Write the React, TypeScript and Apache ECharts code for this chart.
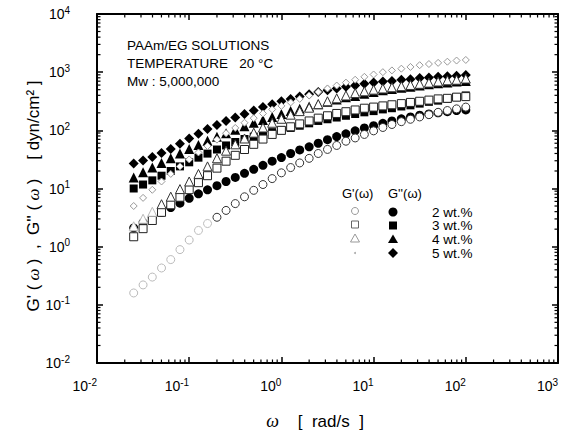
import { useEffect, useRef } from "react";
import * as echarts from "echarts";

// angular frequency, rad/s
const omega = [0.025, 0.0316, 0.0398, 0.0501, 0.0631, 0.0794, 0.1, 0.126, 0.158, 0.2, 0.251, 0.316, 0.398, 0.501, 0.631, 0.794, 1, 1.26, 1.58, 2, 2.51, 3.16, 3.98, 5.01, 6.31, 7.94, 10, 12.6, 15.8, 20, 25.1, 31.6, 39.8, 50.1, 63.1, 79.4, 100];

// G'' (loss modulus), dyn/cm2
const gpp2 = [2.1, 2.6, 3.2, 3.9, 4.7, 5.6, 6.8, 8.1, 9.5, 11.2, 13.2, 15.5, 18.2, 21.4, 25, 29.5, 34, 40, 46, 52, 60, 69, 78, 87, 98, 110, 120, 132, 145, 158, 170, 182, 191, 200, 209, 219, 224];
const gpp3 = [10, 11.7, 13.8, 16.6, 20, 24, 28.2, 33.9, 39.8, 46.8, 55, 63, 71, 78, 85, 93, 100, 110, 120, 132, 145, 155, 166, 178, 191, 204, 214, 229, 240, 257, 269, 288, 309, 324, 347, 372, 398];
const gpp4 = [15.5, 19.1, 22.9, 27.5, 33.1, 39.8, 47.9, 56.2, 66.1, 77.6, 89.1, 102, 117, 135, 151, 170, 191, 214, 234, 257, 282, 309, 339, 372, 389, 427, 457, 490, 513, 537, 562, 589, 617, 646, 661, 692, 708];
const gpp5 = [26.9, 30.2, 34.7, 40.7, 47.9, 58.9, 72.4, 87.1, 105, 123, 145, 166, 191, 219, 251, 282, 316, 347, 380, 417, 457, 490, 525, 562, 589, 631, 661, 692, 708, 741, 759, 794, 813, 832, 851, 871, 891];

// G' (storage modulus), dyn/cm2
const gp2 = [0.16, 0.22, 0.3, 0.43, 0.6, 0.89, 1.3, 1.9, 2.5, 3.2, 4.2, 5.5, 7.2, 9.3, 11.7, 14.8, 18.6, 22.9, 27.5, 33, 40, 47, 55, 65, 74, 85, 98, 112, 126, 141, 155, 170, 186, 204, 219, 234, 251];
const gp3 = [1.48, 2.04, 2.82, 3.89, 5.25, 7.08, 9.55, 12.6, 16.6, 22.4, 29.5, 37.2, 46.8, 57.5, 70.8, 85.1, 100, 115, 129, 145, 162, 178, 195, 209, 224, 240, 251, 263, 275, 288, 302, 316, 331, 347, 355, 372, 380];
const gp4 = [2.24, 3.02, 3.98, 5.37, 7.24, 9.77, 13.2, 17.8, 24, 33.1, 44.7, 57.5, 72.4, 91.2, 112, 135, 158, 186, 214, 245, 282, 316, 355, 398, 437, 468, 501, 525, 550, 575, 603, 631, 661, 692, 724, 741, 776];
const gp5 = [5, 6.9, 9.5, 13.2, 17.8, 24, 31.6, 41.7, 53.7, 69.2, 89.1, 110, 135, 162, 195, 229, 263, 302, 347, 398, 457, 525, 589, 661, 741, 832, 912, 1000, 1072, 1148, 1230, 1318, 1380, 1445, 1514, 1585, 1622];

const xDecades = [-2, -1, 0, 1, 2, 3];
const yDecades = [-2, -1, 0, 1, 2, 3, 4];
const minorMultipliers = [2, 3, 4, 5, 6, 7, 8, 9];
const concLabels = ["2 wt.%", "3 wt.%", "4 wt.%", "5 wt.%"];
const noteLines = ["PAAm/EG SOLUTIONS", "TEMPERATURE   20 °C", "Mw : 5,000,000"];

const SANS = '"Liberation Sans", Arial, sans-serif';
const SERIF = '"Liberation Serif", "Times New Roman", serif';

export default function App() {
  const ref = useRef<HTMLDivElement>(null);
  useEffect(() => {
    const chart = echarts.init(ref.current!, null, { renderer: "svg" });
    const pts = (arr: number[]) => omega.map((w, i) => [w, arr[i]]);
    const filled = (name: string, arr: number[], symbol: string, size: number) => ({
      type: "scatter", name, data: pts(arr), symbol, symbolSize: size, z: 3, silent: true,
      itemStyle: { color: "#000", opacity: 1 },
    });
    const open = (name: string, arr: number[], symbol: string, size: number, stroke: string, faintBelow = 0) => ({
      type: "scatter", name, symbol, symbolSize: size, z: 4, silent: true,
      data: omega.map((w, i) =>
        w < faintBelow
          ? { value: [w, arr[i]], itemStyle: { color: "#fff", borderColor: "#bbb", borderWidth: 1 } }
          : [w, arr[i]]
      ),
      itemStyle: { color: "#fff", borderColor: stroke, borderWidth: 1, opacity: 1 },
    });
    const minorX = xDecades.slice(0, -1).flatMap((e) => minorMultipliers.map((m) => m * Math.pow(10, e)));
    const minorY = yDecades.slice(0, -1).flatMap((e) => minorMultipliers.map((m) => m * Math.pow(10, e)));
    const tickStyle = { color: "#000", width: 1.5 };
    const labelFmt = (v: number) => `{b|10}{s|${Math.round(Math.log10(v))}}`;
    const rich = {
      b: { fontSize: 14, fontFamily: SANS, color: "#000" },
      s: { fontSize: 10, fontFamily: SANS, color: "#000", padding: [0, 0, 8, 0] },
    };
    const axisCommon = {
      type: "log", logBase: 10, splitLine: { show: false },
      axisLine: { show: true, lineStyle: { color: "#000", width: 2 } },
      axisTick: { show: true, inside: true, length: 6, lineStyle: tickStyle },
    };
    const option: any = {
      animation: false,
      backgroundColor: "#fff",
      grid: { left: 97, right: 25, top: 14, bottom: 71 },
      xAxis: [
        { ...axisCommon, min: 0.01, max: 1000, splitNumber: 5, position: "bottom",
          axisLabel: { formatter: labelFmt, rich, margin: 14, align: "right" } },
        { ...axisCommon, min: 0.01, max: 1000, splitNumber: 5, position: "top", axisLabel: { show: false } },
      ],
      yAxis: [
        { ...axisCommon, min: 0.01, max: 10000, splitNumber: 6, position: "left",
          axisLabel: { formatter: labelFmt, rich, margin: 27 } },
        { ...axisCommon, min: 0.01, max: 10000, splitNumber: 6, position: "right", axisLabel: { show: false } },
      ],
      series: [
        {
          type: "custom", silent: true, z: 1, clip: false,
          data: minorX.map((v) => [v, 1]),
          renderItem: (params: any, api: any) => {
            const cs = params.coordSys;
            const px = api.coord([api.value(0), 1])[0];
            return {
              type: "group",
              children: [
                { type: "line", shape: { x1: px, y1: cs.y + cs.height, x2: px, y2: cs.y + cs.height - 3.5 }, style: { stroke: "#000", lineWidth: 1.2 } },
                { type: "line", shape: { x1: px, y1: cs.y, x2: px, y2: cs.y + 3.5 }, style: { stroke: "#000", lineWidth: 1.2 } },
              ],
            };
          },
        },
        {
          type: "custom", silent: true, z: 1, clip: false,
          data: minorY.map((v) => [1, v]),
          renderItem: (params: any, api: any) => {
            const cs = params.coordSys;
            const py = api.coord([1, api.value(1)])[1];
            return {
              type: "group",
              children: [
                { type: "line", shape: { x1: cs.x, y1: py, x2: cs.x + 3.5, y2: py }, style: { stroke: "#000", lineWidth: 1.2 } },
                { type: "line", shape: { x1: cs.x + cs.width, y1: py, x2: cs.x + cs.width - 3.5, y2: py }, style: { stroke: "#000", lineWidth: 1.2 } },
              ],
            };
          },
        },
        filled("G'' 2 wt.%", gpp2, "circle", 9),
        filled("G'' 3 wt.%", gpp3, "rect", 8),
        filled("G'' 4 wt.%", gpp4, "triangle", 10),
        filled("G'' 5 wt.%", gpp5, "diamond", 10),
        open("G' 2 wt.%", gp2, "circle", 8, "#333", 0.2),
        open("G' 3 wt.%", gp3, "rect", 8, "#222"),
        open("G' 4 wt.%", gp4, "triangle", 9, "#333", 0.05),
        open("G' 5 wt.%", gp5, "diamond", 7, "#999"),
      ],
      graphic: [
        ...noteLines.map((t, i) => ({
          type: "text", x: 127, y: 45 + i * 18,
          style: { text: t, font: `13.5px ${SANS}`, fill: "#000", verticalAlign: "middle", lineHeight: 15 },
        })),
        {
          type: "text", x: 33, y: 196, rotation: Math.PI / 2,
          style: {
            text: "{t|G' (}{w| ω }{t|)  ,  G'' (}{w| ω }{t|)    [ dyn/cm² ]}",
            align: "center", verticalAlign: "middle",
            rich: { t: { font: `17px ${SANS}`, fill: "#000" }, w: { font: `italic 17px ${SERIF}`, fill: "#000" } },
          },
        },
        {
          type: "text", x: 315, y: 421,
          style: {
            text: "{w|ω}{t|    [  rad/s  ]}", align: "center", verticalAlign: "middle",
            rich: { t: { font: `17px ${SANS}`, fill: "#000" }, w: { font: `italic 18px ${SERIF}`, fill: "#000" } },
          },
        },
        { type: "text", x: 342, y: 193, style: { text: "G'(ω)", font: `13px ${SANS}`, fill: "#000", verticalAlign: "middle", lineHeight: 13 } },
        { type: "text", x: 388, y: 193, style: { text: "G''(ω)", font: `13px ${SANS}`, fill: "#000", verticalAlign: "middle", lineHeight: 13 } },
        ...concLabels.map((t, i) => ({
          type: "text", x: 432, y: 212 + i * 13.8,
          style: { text: t, font: `13.5px ${SANS}`, fill: "#000", verticalAlign: "middle", lineHeight: 12 },
        })),
        { type: "circle", shape: { cx: 355, cy: 211, r: 3.5 }, style: { fill: "#fff", stroke: "#999", lineWidth: 1 } },
        { type: "rect", shape: { x: 351.5, y: 221, width: 7, height: 7 }, style: { fill: "#fff", stroke: "#666", lineWidth: 1 } },
        { type: "polygon", shape: { points: [[355, 234], [359.5, 242], [350.5, 242]] }, style: { fill: "#fff", stroke: "#999", lineWidth: 1 } },
        { type: "circle", shape: { cx: 355, cy: 253, r: 1 }, style: { fill: "#aaa" } },
        { type: "circle", shape: { cx: 393, cy: 212, r: 4.5 }, style: { fill: "#000" } },
        { type: "rect", shape: { x: 389, y: 221.5, width: 8, height: 8 }, style: { fill: "#000" } },
        { type: "polygon", shape: { points: [[393, 234.5], [398, 243], [388, 243]] }, style: { fill: "#000" } },
        { type: "polygon", shape: { points: [[393, 248], [398, 253], [393, 258], [388, 253]] }, style: { fill: "#000" } },
      ],
    };
    chart.setOption(option);
    return () => chart.dispose();
  }, []);
  return (
    <div
      ref={ref}
      style={{ position: "fixed", left: 0, top: 0, width: 583, height: 434, background: "#fff" }}
    />
  );
}
